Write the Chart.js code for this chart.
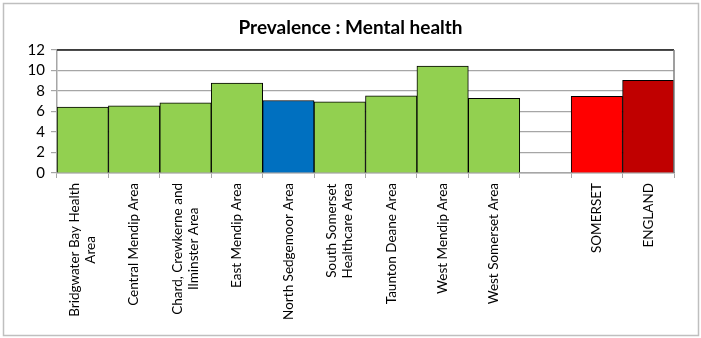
<!DOCTYPE html>
<html>
<head>
<meta charset="utf-8">
<script src="https://cdn.jsdelivr.net/npm/chart.js@4/dist/chart.umd.min.js"></script>
<style>
  html, body { margin: 0; padding: 0; background: #fff; }
  #wrap { position: relative; width: 701px; height: 338px; }
</style>
</head>
<body>
<div id="wrap"><canvas id="c" width="701" height="338"></canvas></div>
<script>
const categories = [
  ["Bridgwater Bay Health", "Area"],
  "Central Mendip Area",
  ["Chard, Crewkerne and", "Ilminster Area"],
  "East Mendip Area",
  "North Sedgemoor Area",
  ["South Somerset", "Healthcare Area"],
  "Taunton Deane Area",
  "West Mendip Area",
  "West Somerset Area",
  "",
  "SOMERSET",
  "ENGLAND"
];
const prevalence = [6.42, 6.55, 6.84, 8.78, 7.07, 6.94, 7.52, 10.42, 7.29, null, 7.48, 9.03];
const barColors = ["#92D050", "#92D050", "#92D050", "#92D050", "#0070C0", "#92D050", "#92D050", "#92D050", "#92D050", "#92D050", "#FF0000", "#C00000"];
const yMin = 0, yMax = 12, yStep = 2;
const titleText = "Prevalence : Mental health";

const FONT = "Lato, 'Open Sans', sans-serif";

const frameAndLabels = {
  id: "frameAndLabels",
  afterDraw(chart) {
    const ctx = chart.ctx;
    const a = chart.chartArea;
    ctx.save();
    // outer chart border
    ctx.strokeStyle = "#bfbfbf";
    ctx.lineWidth = 1.5;
    ctx.strokeRect(3.5, 3.5, 695, 332);
    // plot area top & right border
    ctx.strokeStyle = "#1a1a1a";
    ctx.lineWidth = 1.5;
    ctx.beginPath();
    ctx.moveTo(a.left, a.top);
    ctx.lineTo(a.right, a.top);
    ctx.stroke();
    ctx.strokeStyle = "#7f7f7f";
    ctx.beginPath();
    ctx.moveTo(a.right, a.top);
    ctx.lineTo(a.right, a.bottom);
    ctx.stroke();
    // x category labels, rotated
    const xs = chart.scales.x;
    ctx.fillStyle = "#000";
    ctx.font = "13.5px " + FONT;
    ctx.textAlign = "center";
    ctx.textBaseline = "middle";
    const lh = 15.5;
    categories.forEach((lab, i) => {
      const lines = Array.isArray(lab) ? lab : [lab];
      if (!lines.join("")) return;
      const maxW = Math.max(...lines.map(l => ctx.measureText(l).width));
      const cx = xs.getPixelForValue(i);
      const cy = xs.top + 10 + maxW / 2;
      ctx.save();
      ctx.translate(cx, cy);
      ctx.rotate(-Math.PI / 2);
      lines.forEach((l, j) => {
        ctx.fillText(l, 0, (j - (lines.length - 1) / 2) * lh);
      });
      ctx.restore();
    });
    ctx.restore();
  }
};

new Chart(document.getElementById("c"), {
  type: "bar",
  data: {
    labels: categories,
    datasets: [{
      data: prevalence,
      backgroundColor: barColors,
      borderColor: "#000",
      borderWidth: 1,
      barPercentage: 1,
      categoryPercentage: 1
    }]
  },
  options: {
    responsive: false,
    animation: false,
    devicePixelRatio: 1,
    layout: { padding: { left: 27, right: 27, top: 0, bottom: 0 } },
    plugins: {
      legend: { display: false },
      tooltip: { enabled: false },
      title: {
        display: true,
        text: titleText,
        color: "#000",
        font: { family: FONT, size: 19, weight: "bold", lineHeight: 1.2 },
        padding: { top: 16.5, bottom: 10.7 }
      }
    },
    scales: {
      x: {
        offset: true,
        grid: { display: true, offset: true, drawOnChartArea: false, drawTicks: true, tickLength: 5, color: "#a6a6a6" },
        border: { display: true, color: "#a6a6a6", width: 1.5 },
        ticks: { display: false },
        afterFit(scale) { scale.height = 165; }
      },
      y: {
        min: yMin,
        max: yMax,
        ticks: { stepSize: yStep, autoSkip: false, color: "#000", font: { family: FONT, size: 15 }, padding: 6 },
        grid: { color: "#a6a6a6", tickColor: "#a6a6a6", tickLength: 6, lineWidth: 1.2 },
        border: { display: true, color: "#a6a6a6", width: 1.5 },
        afterFit(scale) { scale.width = 30; }
      }
    }
  },
  plugins: [frameAndLabels]
});
</script>
</body>
</html>
